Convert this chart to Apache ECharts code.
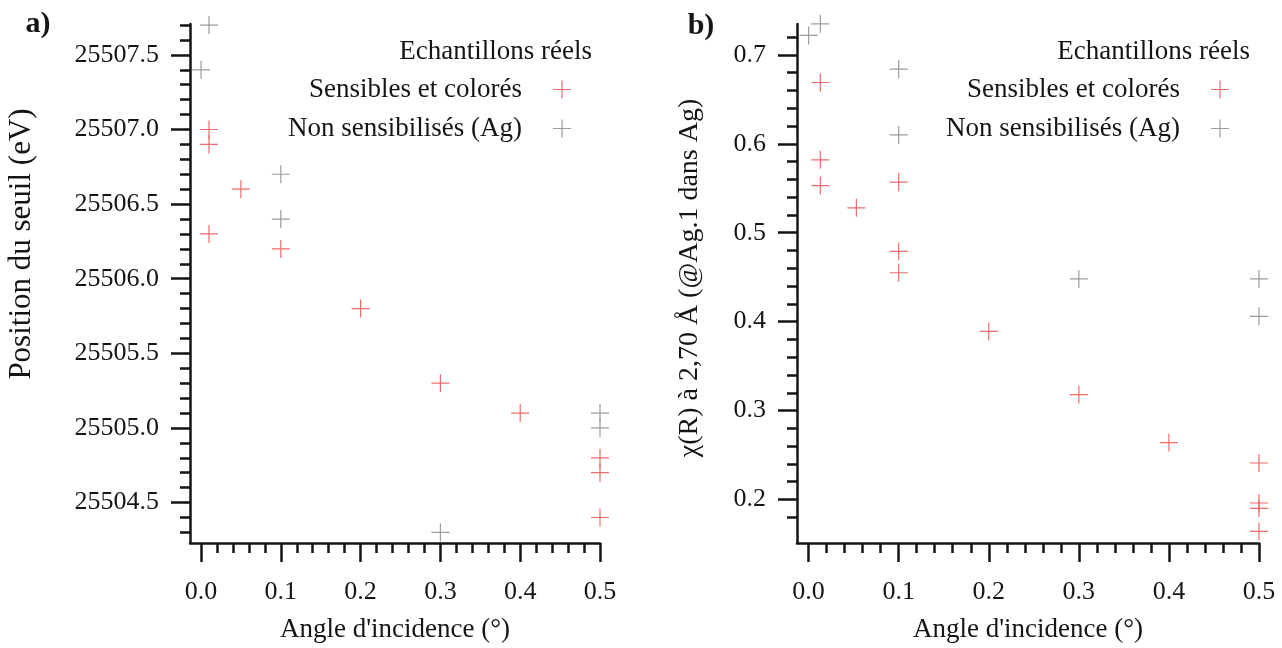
<!DOCTYPE html>
<html><head><meta charset="utf-8">
<script src="https://cdn.jsdelivr.net/npm/echarts@6/dist/echarts.min.js"></script>
<style>html,body{margin:0;padding:0;background:#fff}#c{width:1282px;height:648px}</style>
</head><body><div id="c"></div>
<script>
// ---------- data ----------
const seriesNames = ['Sensibles et colorés', 'Non sensibilisés (Ag)'];
const legendTitle = 'Echantillons réels';
const xTitle = "Angle d'incidence (°)";
const yTitleA = 'Position du seuil (eV)';
const yTitleB = 'χ(R) à 2,70 Å (@Ag.1 dans Ag)';
const panelLabels = ['a)', 'b)'];

// panel a) : edge position (eV)
const redA_x  = [0.01, 0.01, 0.05, 0.01, 0.1, 0.2, 0.3, 0.4, 0.5, 0.5, 0.5];
const redA_y  = [25507.0, 25506.9, 25506.6, 25506.3, 25506.2, 25505.8, 25505.3, 25505.1, 25504.8, 25504.7, 25504.4];
const greyA_x = [0.01, 0.0, 0.1, 0.1, 0.3, 0.5, 0.5];
const greyA_y = [25507.7, 25507.4, 25506.7, 25506.4, 25504.3, 25505.1, 25505.0];

// panel b) : chi(R) at 2.70 A
const redB_x  = [0.013, 0.013, 0.013, 0.053, 0.1, 0.1, 0.1, 0.2, 0.3, 0.4, 0.5, 0.5, 0.5, 0.5];
const redB_y  = [0.669, 0.582, 0.553, 0.528, 0.557, 0.479, 0.455, 0.389, 0.318, 0.264, 0.241, 0.196, 0.190, 0.164];
const greyB_x = [0.0, 0.013, 0.1, 0.1, 0.3, 0.5, 0.5];
const greyB_y = [0.722, 0.735, 0.684, 0.610, 0.448, 0.448, 0.406];

// tick values
const xMajor = [0.0, 0.1, 0.2, 0.3, 0.4, 0.5];
const yMajorA = [25504.5, 25505.0, 25505.5, 25506.0, 25506.5, 25507.0, 25507.5];
const yMajorB = [0.2, 0.3, 0.4, 0.5, 0.6, 0.7];

// ---------- build ----------
const xMinor = [];
for (let i = 1; i < 25; i++) if (i % 5) xMinor.push(+(i * 0.02).toFixed(2));
const yMinorA = [];
for (let k = 255043; k <= 255077; k++) if (k % 5) yMinorA.push(k / 10);
const yMinorB = [];
for (let k = 9; k <= 36; k++) if (k % 5) yMinorB.push(+(k * 0.02).toFixed(2));

const FONT = 'Liberation Serif';
const INK = '#151515';
const RED = '#ee6c6c';
const GREY = '#9c9c9c';
const COLORS = [RED, GREY];
const PLUS = 'path://M0,9L18,9M9,0L9,18';
const PLUS_FILLED = 'path://M8.4,0h1.2v8.4h8.4v1.2h-8.4v8.4h-1.2v-8.4h-8.4v-1.2h8.4z';

const zip = (xs, ys) => xs.map((x, i) => [x, ys[i]]);

function axes(dim, grid, min, max, majors, minors, fmt, extra) {
  const position = dim === 'x' ? 'bottom' : 'left';
  const base = {
    type: 'value', gridIndex: grid, min: min, max: max, position: position, offset: 0,
    splitLine: { show: false }
  };
  const main = Object.assign({}, base, {
    axisLine: { show: true, onZero: false, lineStyle: { color: INK, width: 2.5 } },
    axisTick: { show: false },
    axisLabel: { show: true, customValues: majors, formatter: fmt, margin: dim === 'x' ? 36 : 31,
      fontFamily: FONT, fontSize: 26, color: INK }
  }, extra || {});
  const tickAxis = (vals, len) => Object.assign({}, base, {
    axisLine: { show: false, onZero: false },
    axisTick: { show: true, inside: false, length: len, customValues: vals, lineStyle: { color: INK, width: 2.5 } },
    axisLabel: { show: false }
  });
  return [main, tickAxis(majors, 19), tickAxis(minors, 10)];
}

const fmt1 = v => v.toFixed(1);
const xNameOpt = { name: xTitle, nameLocation: 'middle', nameGap: 73,
  nameTextStyle: { fontFamily: FONT, fontSize: 27, color: INK } };

const xa = axes('x', 0, -0.0138, 0.5, xMajor, xMinor, fmt1, xNameOpt);
const xb = axes('x', 1, -0.0129, 0.5, xMajor, xMinor, fmt1, xNameOpt);
const ya = axes('y', 0, 25504.229, 25507.707, yMajorA, yMinorA, fmt1);
const yb = axes('y', 1, 0.151, 0.7348, yMajorB, yMinorB, fmt1);

function sc(name, xi, yi, data, color) {
  return { type: 'scatter', name: name, xAxisIndex: xi, yAxisIndex: yi, data: data,
    symbol: PLUS, symbolSize: 18, clip: false, silent: true,
    itemStyle: { color: 'transparent', borderColor: color, borderWidth: 1.2, opacity: 1 } };
}

function legend(right) {
  return { data: seriesNames.map((n, i) => ({ name: n, icon: PLUS_FILLED,
      itemStyle: { color: COLORS[i], borderWidth: 0, opacity: 1 } })),
    orient: 'vertical', align: 'right', right: right, top: 76,
    itemWidth: 70, itemHeight: 18, itemGap: 12, padding: 0, selectedMode: false,
    symbolKeepAspect: true,
    textStyle: { fontFamily: FONT, fontSize: 27, color: INK } };
}

function txt(x, y, text, size, opts) {
  return Object.assign({ type: 'text', x: x, y: y, silent: true,
    style: Object.assign({ text: text, fill: INK, font: size + 'px "' + FONT + '"',
      textAlign: 'center', textVerticalAlign: 'middle' }, (opts && opts.style) || {}) },
    (opts && opts.el) || {});
}

const option = {
  backgroundColor: '#fff',
  animation: false,
  grid: [
    { left: 190, top: 24, width: 410, height: 520 },
    { left: 797, top: 24, width: 462, height: 520 }
  ],
  xAxis: [].concat(xa, xb),
  yAxis: [].concat(ya, yb),
  legend: [legend(711), legend(53)],
  series: [
    sc(seriesNames[0], 0, 0, zip(redA_x, redA_y), RED),
    sc(seriesNames[1], 0, 0, zip(greyA_x, greyA_y), GREY),
    sc(seriesNames[0], 3, 3, zip(redB_x, redB_y), RED),
    sc(seriesNames[1], 3, 3, zip(greyB_x, greyB_y), GREY)
  ],
  graphic: [
    txt(38, 24, panelLabels[0], 30, { style: { font: 'bold 30px "' + FONT + '"' } }),
    txt(701, 26, panelLabels[1], 30, { style: { font: 'bold 30px "' + FONT + '"' } }),
    txt(592, 52, legendTitle, 27, { style: { textAlign: 'right' } }),
    txt(1250, 52, legendTitle, 27, { style: { textAlign: 'right' } }),
    txt(22, 244, yTitleA, 31, { el: { rotation: Math.PI / 2 } }),
    txt(690, 278, yTitleB, 28, { el: { rotation: Math.PI / 2 } })
  ]
};

const chart = echarts.init(document.getElementById('c'), null, { renderer: 'canvas' });
chart.setOption(option);
</script>
</body></html>
